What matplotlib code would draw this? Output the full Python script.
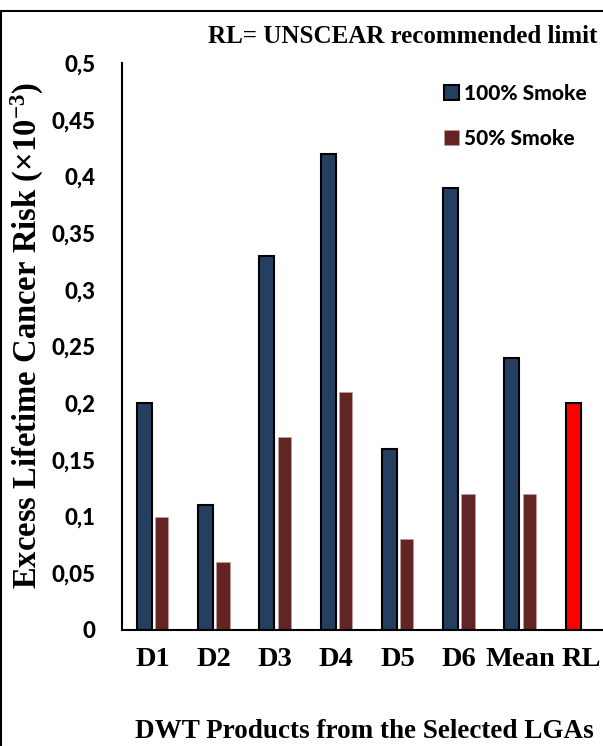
import numpy as np
import matplotlib.pyplot as plt
from matplotlib.patches import Rectangle

# Data
categories = ['D1', 'D2', 'D3', 'D4', 'D5', 'D6', 'Mean', 'RL']
smoke_100 = [0.20, 0.11, 0.33, 0.42, 0.16, 0.39, 0.24, 0.20]
smoke_50 = [0.10, 0.06, 0.17, 0.21, 0.08, 0.12, 0.12, np.nan]
yticks = [0, 0.05, 0.1, 0.15, 0.2, 0.25, 0.3, 0.35, 0.4, 0.45, 0.5]
ytick_labels = ['0', '0,05', '0,1', '0,15', '0,2', '0,25', '0,3', '0,35', '0,4', '0,45', '0,5']

navy = '#253f61'
maroon = '#632523'
red = '#ff0000'

plt.rcParams['mathtext.fontset'] = 'custom'
plt.rcParams['mathtext.rm'] = 'Liberation Serif:bold'
plt.rcParams['mathtext.it'] = 'Liberation Serif:bold'
plt.rcParams['mathtext.bf'] = 'Liberation Serif:bold'

fig = plt.figure(figsize=(6.03, 7.46), dpi=100)
ax = fig.add_axes([0.2023, 0.1555, 0.8126, 0.76])

x = np.arange(len(categories))
colors_100 = [navy] * (len(categories) - 1) + [red]
ax.bar(x - 0.135, smoke_100, width=0.245, color=colors_100,
       edgecolor='black', linewidth=1.5, label='100% Smoke')
ax.bar(x + 0.15, smoke_50, width=0.217, color=maroon,
       edgecolor='#c9a0a0', linewidth=0.4, label='50% Smoke')

ax.set_xlim(-0.5, 7.5)
ax.set_ylim(0, 0.5)
ax.set_yticks(yticks)
ax.set_yticklabels(ytick_labels, fontfamily='Lato', fontweight='black', fontsize=16)
ax.set_xticks(x)
ax.set_xticklabels(categories, fontfamily='Liberation Serif', fontweight='bold', fontsize=20.5)
ax.tick_params(axis='y', length=0, pad=19)
ax.tick_params(axis='x', length=0, pad=12)

for side in ['top', 'right']:
    ax.spines[side].set_visible(False)
for side in ['left', 'bottom']:
    ax.spines[side].set_linewidth(1.5)

ax.set_ylabel('Excess Lifetime Cancer Risk (×10$^{\\mathrm{-3}}$)',
              fontfamily='Liberation Serif', fontweight='bold', fontsize=23.5)
ax.yaxis.set_label_coords(-0.155, 0.52)
ax.set_xlabel('DWT Products from the Selected LGAs',
              fontfamily='Liberation Serif', fontweight='bold', fontsize=19.5)
ax.xaxis.set_label_coords(0.495, -0.157)

fig.text(0.345, 0.951, 'RL= UNSCEAR recommended limit',
         fontfamily='Liberation Serif', fontweight='bold', fontsize=18,
         ha='left', va='center')

leg = ax.legend(loc='upper left', bbox_to_anchor=(0.705, 0.913),
                bbox_transform=fig.transFigure, frameon=False,
                prop={'family': 'Lato', 'weight': 'black', 'size': 15},
                handlelength=0.75, handleheight=0.75, handletextpad=0.2,
                labelspacing=1.25)

# outer frame around the figure
fig.patches.append(Rectangle((0.002, -0.01), 1.2, 0.995, transform=fig.transFigure,
                             fill=False, edgecolor='black', linewidth=1.5))

fig.savefig('out.png', dpi=100)
